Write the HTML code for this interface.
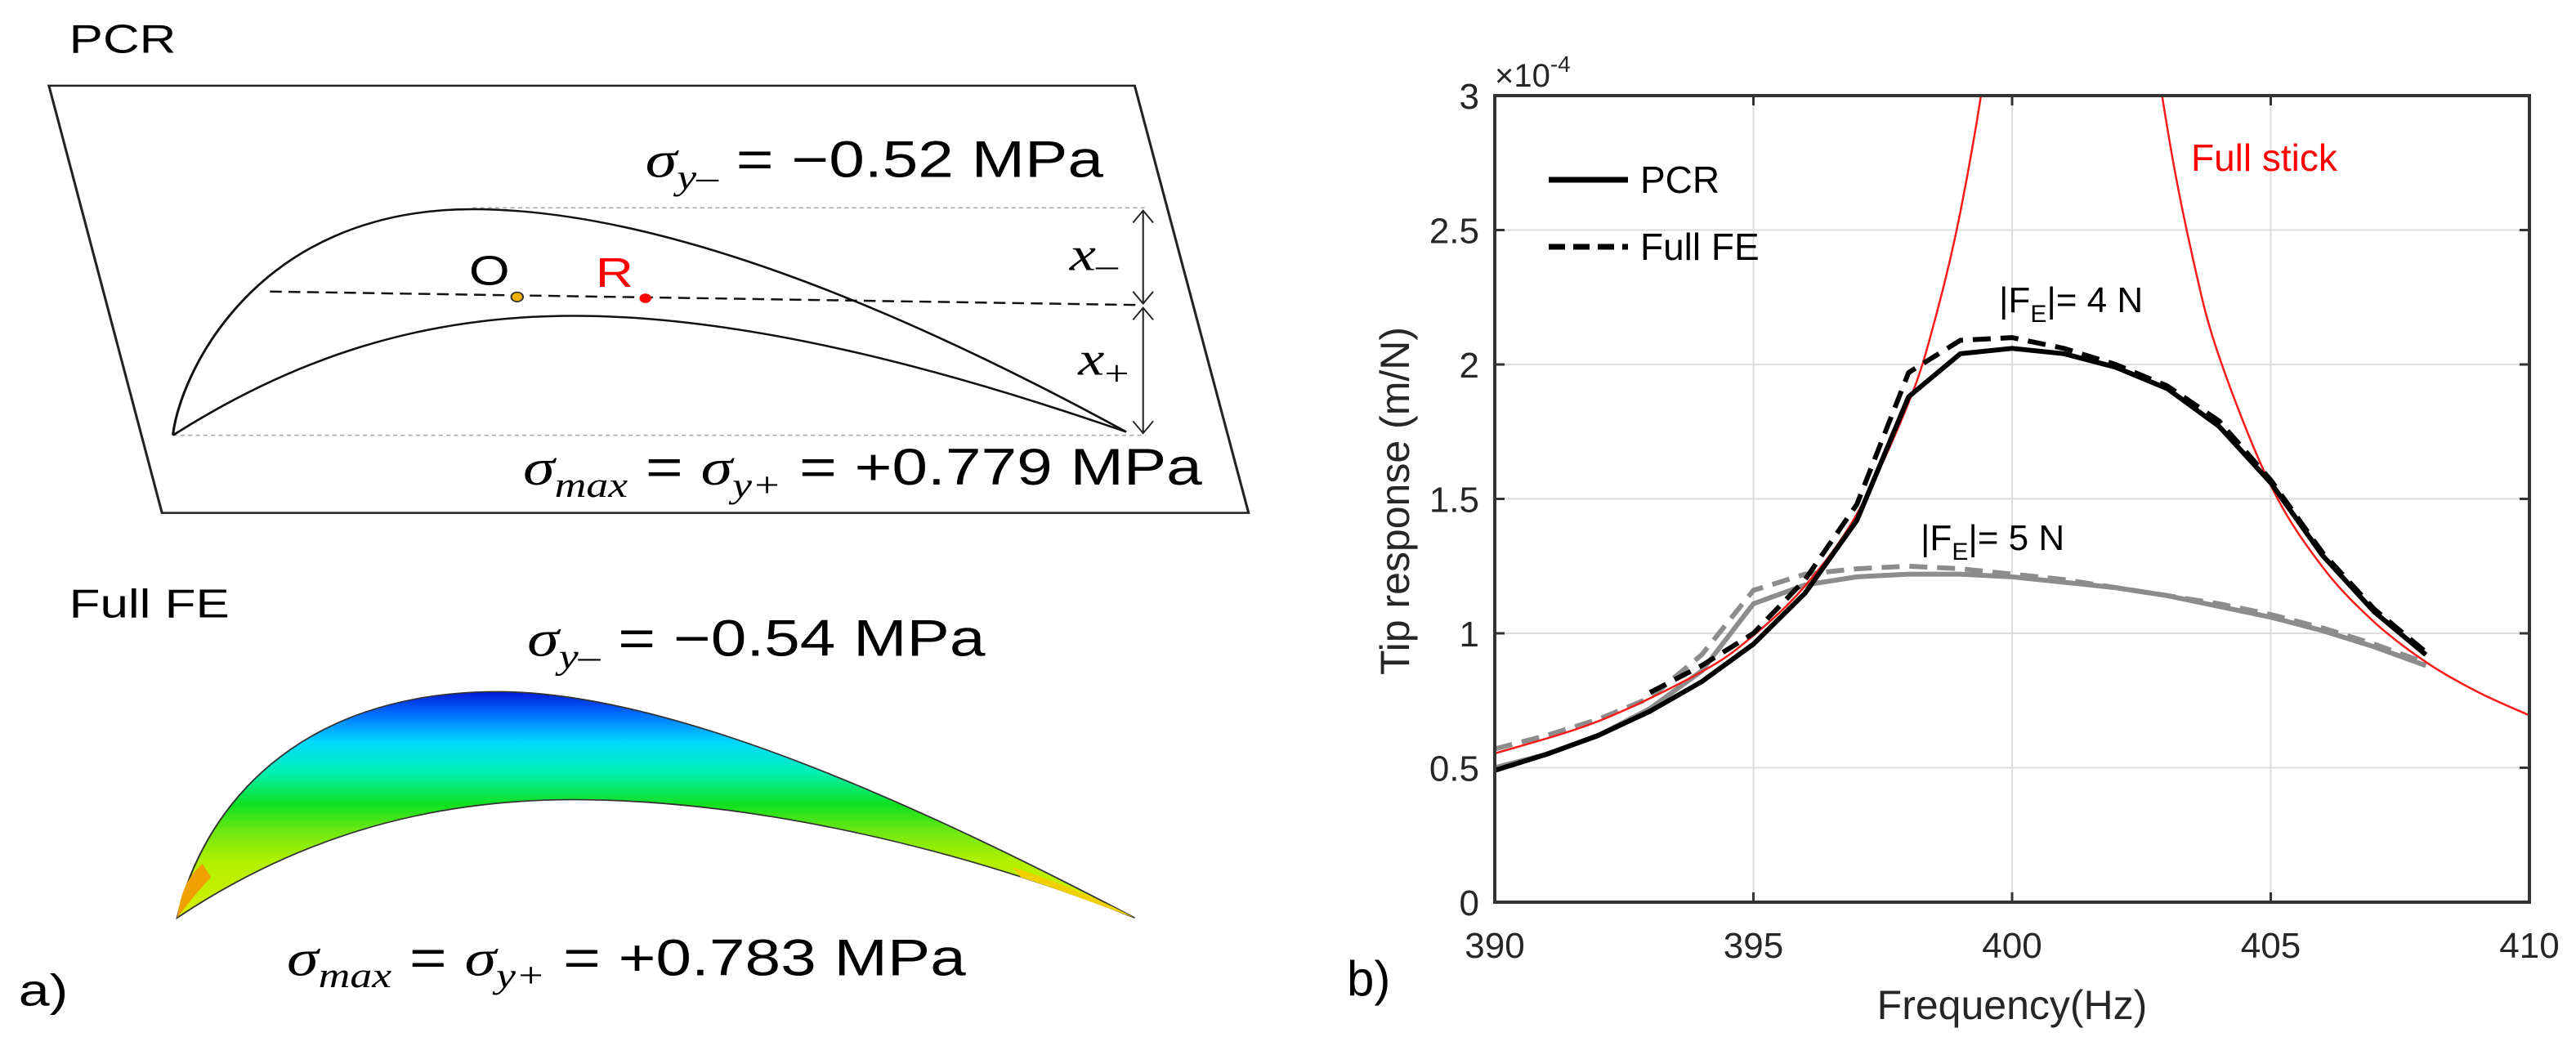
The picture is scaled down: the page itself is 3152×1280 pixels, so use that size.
<!DOCTYPE html>
<html><head><meta charset="utf-8"><style>
html,body{margin:0;padding:0;background:#fff;}
body{width:3152px;height:1280px;position:relative;overflow:hidden;font-family:"Liberation Sans",sans-serif;}
svg{position:absolute;top:0;}
</style></head><body>
<svg style="left:0" width="1600" height="1280" viewBox="0 0 1550 1550" preserveAspectRatio="none">
 <defs>
  <linearGradient id="feg" x1="0" y1="1025" x2="0" y2="1360" gradientUnits="userSpaceOnUse">
   <stop offset="0" stop-color="#0018d8"/><stop offset="0.1" stop-color="#0070ff"/><stop offset="0.22" stop-color="#00d8ff"/>
   <stop offset="0.36" stop-color="#00f0b0"/><stop offset="0.5" stop-color="#10e020"/><stop offset="0.62" stop-color="#70e810"/>
   <stop offset="0.75" stop-color="#b0f000"/><stop offset="1" stop-color="#d8f000"/>
  </linearGradient>
 </defs>
 <g>
 <text x="82" y="78" font-size="60" font-family="Liberation Sans">PCR</text>
 <polygon points="58,127 1345,127 1480,760 192,760" fill="none" stroke="#222" stroke-width="3"/>
 <line x1="560" y1="308" x2="1358" y2="308" stroke="#aaa" stroke-width="2" stroke-dasharray="5,4"/>
 <line x1="205" y1="645" x2="1358" y2="645" stroke="#aaa" stroke-width="2" stroke-dasharray="5,4"/>
 <path d="M205,645 C212,560 300,310 560,310 C800,310 1100,480 1335,640" fill="none" stroke="#111" stroke-width="3"/>
 <path d="M205,645 C350,530 500,468 680,468 C900,468 1150,560 1335,640" fill="none" stroke="#111" stroke-width="3"/>
 <line x1="320" y1="432" x2="1352" y2="452" stroke="#111" stroke-width="3" stroke-dasharray="14,8"/>
 <g stroke="#222" stroke-width="2" fill="none">
  <line x1="1355" y1="312" x2="1355" y2="450"/><line x1="1355" y1="456" x2="1355" y2="642"/>
  <polyline points="1343,330 1355,312 1367,330"/><polyline points="1343,432 1355,450 1367,432"/>
  <polyline points="1343,474 1355,456 1367,474"/><polyline points="1343,624 1355,642 1367,624"/>
 </g>
 <circle cx="613" cy="440" r="7" fill="#f0b000" stroke="#333" stroke-width="2"/>
 <circle cx="765" cy="442" r="7" fill="#f00"/>
 <text x="556" y="422" font-size="62">O</text>
 <text x="706" y="425" font-size="62" fill="#f00">R</text>
 <text x="1268" y="400" font-size="70" font-family="Liberation Serif" font-style="italic">x<tspan font-size="52" dy="10" font-style="normal">–</tspan></text>
 <text x="1278" y="555" font-size="70" font-family="Liberation Serif" font-style="italic">x<tspan font-size="52" dy="16" font-style="normal">+</tspan></text>
 <text x="765" y="262" font-size="76"><tspan font-family="Liberation Serif" font-style="italic">σ</tspan><tspan font-family="Liberation Serif" font-style="italic" font-size="52" dy="18">y–</tspan><tspan dy="-18"> = −0.52 MPa</tspan></text>
 <text x="620" y="718" font-size="76"><tspan font-family="Liberation Serif" font-style="italic">σ</tspan><tspan font-family="Liberation Serif" font-style="italic" font-size="52" dy="18">max</tspan><tspan dy="-18"> =  </tspan><tspan font-family="Liberation Serif" font-style="italic">σ</tspan><tspan font-family="Liberation Serif" font-style="italic" font-size="52" dy="18">y+</tspan><tspan dy="-18"> = +0.779 MPa</tspan></text>
 </g>
 <g>
 <text x="82" y="915" font-size="60">Full  FE</text>
 <text x="625" y="972" font-size="76"><tspan font-family="Liberation Serif" font-style="italic">σ</tspan><tspan font-family="Liberation Serif" font-style="italic" font-size="52" dy="18">y–</tspan><tspan dy="-18"> = −0.54 MPa</tspan></text>
 <path d="M210,1360 C240,1200 350,1025 590,1025 C800,1025 1100,1200 1345,1360 C1150,1262 900,1185 680,1185 C480,1185 330,1260 210,1360 Z" fill="url(#feg)" stroke="#333" stroke-width="2"/>
 <path d="M210,1360 C215,1320 222,1300 240,1280 L250,1300 C235,1320 222,1340 210,1360Z" fill="#f0a000"/>
 <path d="M1345,1360 C1300,1330 1250,1305 1200,1285 L1210,1300 C1260,1320 1300,1340 1345,1360Z" fill="#f0d000"/>
 <text x="340" y="1445" font-size="76"><tspan font-family="Liberation Serif" font-style="italic">σ</tspan><tspan font-family="Liberation Serif" font-style="italic" font-size="52" dy="18">max</tspan><tspan dy="-18"> = </tspan><tspan font-family="Liberation Serif" font-style="italic">σ</tspan><tspan font-family="Liberation Serif" font-style="italic" font-size="52" dy="18">y+</tspan><tspan dy="-18"> = +0.783 MPa</tspan></text>
 </g>
 <text x="22" y="1490" font-size="66">a)</text>
</svg>
<svg id="chart" style="left:0" width="3152" height="1280" viewBox="0 0 3152 1280"></svg>
<script>
const xTicks=[390,395,400,405,410];
const yTicks=[0,0.5,1,1.5,2,2.5,3];
const yTickLabels=["0","0.5","1","1.5","2","2.5","3"];
const freqs=[390,391,392,393,394,395,396,397,398,399,400,401,402,403,404,405,406,407,408];
const pcr4=[0.49,0.55,0.62,0.71,0.82,0.96,1.15,1.42,1.88,2.04,2.06,2.04,1.99,1.91,1.77,1.56,1.29,1.08,0.92];
const feFreqs=[393,394,395,396,397,398,399,400,401,402,403,404,405,406,407,408];
const fe4=[0.78,0.88,1.00,1.20,1.48,1.97,2.09,2.10,2.06,2.00,1.92,1.79,1.57,1.30,1.09,0.93];
const pcr5=[0.50,0.55,0.62,0.72,0.86,1.11,1.18,1.21,1.22,1.22,1.21,1.19,1.17,1.14,1.10,1.06,1.01,0.95,0.88];
const fe5=[0.57,0.62,0.68,0.76,0.92,1.16,1.22,1.24,1.25,1.24,1.22,1.20,1.17,1.14,1.11,1.07,1.02,0.96,0.89];
const stickFreqs=[390,392,394,395,396,397,398,398.5,399,399.5,400,401,402,402.5,403,403.5,404,405,406,407,408,409,410];
const stickVals=[0.553,0.673,0.857,0.992,1.177,1.444,1.858,2.16,2.567,3.13,3.9,5.58,4.6,3.56,2.88,2.39,2.03,1.55,1.247,1.042,0.893,0.782,0.695];
const L=1829,R=3095,T=117,B=1104;
const sx=f=>L+(f-390)/20*(R-L);
const sy=v=>B-v/3*(B-T);
const NS="http://www.w3.org/2000/svg";
const svg=document.getElementById('chart');
function mk(tag,attrs,parent){const e=document.createElementNS(NS,tag);for(const k in attrs)e.setAttribute(k,attrs[k]);(parent||svg).appendChild(e);return e;}
const defs=mk('defs',{});const cp=mk('clipPath',{id:'pc'},defs);mk('rect',{x:L,y:T,width:R-L,height:B-T},cp);
// grid
xTicks.forEach(t=>{const g=mk('line',{x1:sx(t),x2:sx(t),y1:T,y2:B,stroke:'#dcdcdc','stroke-width':2});

});
yTicks.forEach(t=>{const g=mk('line',{x1:L,x2:R,y1:sy(t),y2:sy(t),stroke:'#dcdcdc','stroke-width':2});

});
// ticks
xTicks.forEach(t=>{mk('line',{x1:sx(t),x2:sx(t),y1:B,y2:B-12,stroke:'#333','stroke-width':3});mk('line',{x1:sx(t),x2:sx(t),y1:T,y2:T+12,stroke:'#333','stroke-width':3});
const tx=mk('text',{x:sx(t),y:1172,'font-size':44,'text-anchor':'middle',fill:'#262626'});tx.textContent=t;

});
yTicks.forEach((t,i)=>{mk('line',{x1:L,x2:L+12,y1:sy(t),y2:sy(t),stroke:'#333','stroke-width':3});mk('line',{x1:R,x2:R-12,y1:sy(t),y2:sy(t),stroke:'#333','stroke-width':3});
const tx=mk('text',{x:1810,y:sy(t)+16,'font-size':44,'text-anchor':'end',fill:'#262626'});tx.textContent=yTickLabels[i];

});
function poly(xs,ys,attrs,name){const d=xs.map((x,i)=>(i?'L':'M')+sx(x).toFixed(1)+','+sy(ys[i]).toFixed(1)).join(' ');
const p=mk('path',Object.assign({d:d,fill:'none','clip-path':'url(#pc)','stroke-linejoin':'round'},attrs));

return p;}
function smooth(xs,ys,attrs,name){const P=xs.map((x,i)=>[sx(x),sy(ys[i])]);let d='M'+P[0][0]+','+P[0][1];
for(let i=0;i<P.length-1;i++){const p0=P[Math.max(0,i-1)],p1=P[i],p2=P[i+1],p3=P[Math.min(P.length-1,i+2)];
d+=' C'+(p1[0]+(p2[0]-p0[0])/6)+','+(p1[1]+(p2[1]-p0[1])/6)+' '+(p2[0]-(p3[0]-p1[0])/6)+','+(p2[1]-(p3[1]-p1[1])/6)+' '+p2[0]+','+p2[1];}
const p=mk('path',Object.assign({d:d,fill:'none','clip-path':'url(#pc)'},attrs));

return p;}
poly(freqs,fe5,{stroke:'#8c8c8c','stroke-width':6,'stroke-dasharray':'22,12'},'full-fe-5n-line');
poly(freqs,pcr5,{stroke:'#8c8c8c','stroke-width':6},'pcr-5n-line');
smooth(stickFreqs,stickVals,{stroke:'#ff1a1a','stroke-width':2.5},'full-stick-line');
poly(feFreqs,fe4,{stroke:'#000','stroke-width':6,'stroke-dasharray':'22,12'},'full-fe-4n-line');
poly(freqs,pcr4,{stroke:'#000','stroke-width':6},'pcr-4n-line');
// axes box
const bx=mk('rect',{x:L,y:T,width:R-L,height:B-T,fill:'none',stroke:'#333','stroke-width':4});


</script>
<svg style="left:0;pointer-events:none" width="3152" height="1280" viewBox="0 0 3152 1280">
 <text x="1829" y="106" font-size="40" fill="#262626">×10<tspan font-size="28" dy="-18">-4</tspan></text>
 <text x="2462" y="1247" font-size="50" text-anchor="middle" fill="#262626">Frequency(Hz)</text>
 <text transform="translate(1724,613) rotate(-90)" font-size="50" text-anchor="middle" fill="#262626">Tip response (m/N)</text>
 <g>
  <line x1="1895" y1="220" x2="1992" y2="220" stroke="#000" stroke-width="7"/>
  <text x="2007" y="236" font-size="46">PCR</text>
  <line x1="1895" y1="302" x2="1992" y2="302" stroke="#000" stroke-width="7" stroke-dasharray="20,10"/>
  <text x="2007" y="318" font-size="46">Full FE</text>
 </g>
 <text x="2681" y="209" font-size="46" fill="#ff0000">Full stick</text>
 <text x="2446" y="382" font-size="44">|F<tspan font-size="30" dy="12">E</tspan><tspan dy="-12">|= 4 N</tspan></text>
 <text x="2350" y="673" font-size="44">|F<tspan font-size="30" dy="12">E</tspan><tspan dy="-12">|= 5 N</tspan></text>
 <text x="1648" y="1218" font-size="60">b)</text>
</svg>
</body></html>
